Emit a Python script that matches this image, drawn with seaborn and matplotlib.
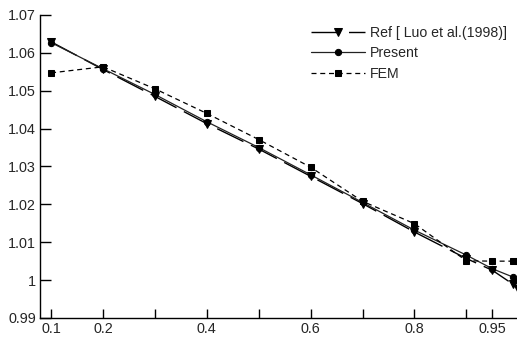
import matplotlib
matplotlib.use("Agg")
import numpy as np
import pandas as pd
import matplotlib.pyplot as plt
import seaborn as sns

# x positions of the points
x_vals = [0.1, 0.2, 0.3, 0.4, 0.5, 0.6, 0.7, 0.8, 0.9, 0.95, 0.99, 1.0]

ref_luo = [1.0629, 1.0556, 1.0485, 1.0413, 1.0346, 1.0274, 1.0202, 1.0127,
           1.0057, 1.0026, 0.9989, 0.9976]
present = [1.0627, 1.0558, 1.0490, 1.0418, 1.0350, 1.0278, 1.0205, 1.0132,
           1.0066, 1.0030, 1.0008, 0.9998]
fem = [1.0547, 1.0563, 1.0505, 1.0440, 1.0371, 1.0298, 1.0208, 1.0149,
       1.0051, 1.0050, 1.0050, 1.0050]

x_ticks = [0.1, 0.2, 0.3, 0.4, 0.5, 0.6, 0.7, 0.8, 0.9, 0.95, 1.0]
x_ticklabels = ["0.1", "0.2", "", "0.4", "", "0.6", "", "0.8", "", "0.95", ""]
y_ticks = [0.99, 1.0, 1.01, 1.02, 1.03, 1.04, 1.05, 1.06, 1.07]
y_ticklabels = ["0.99", "1", "1.01", "1.02", "1.03", "1.04", "1.05", "1.06", "1.07"]

df = pd.DataFrame({"x": x_vals, "ref": ref_luo, "present": present, "fem": fem})

sns.set_style("ticks")
plt.rcParams["font.family"] = ["Liberation Sans", "DejaVu Sans"]

fig = plt.figure(figsize=(5.17, 3.39), dpi=100)
ax = fig.add_axes([0.0774, 0.062, 0.925, 0.894])

sns.lineplot(data=df, x="x", y="ref", ax=ax, color="black", lw=1.0,
             marker="v", markersize=6, markeredgecolor="black",
             linestyle=(0, (21, 6)), label="Ref [ Luo et al.(1998)]",
             clip_on=False)
sns.lineplot(data=df, x="x", y="present", ax=ax, color="#222222", lw=0.9,
             marker="o", markersize=4.5, markeredgecolor="black",
             markerfacecolor="black", label="Present", clip_on=False)
sns.lineplot(data=df, x="x", y="fem", ax=ax, color="black", lw=0.9,
             marker="s", markersize=5, markeredgecolor="black",
             linestyle=(0, (4, 3)), label="FEM", clip_on=False)

ax.set_xlim(0.0787, 1.0)
ax.set_ylim(0.99, 1.07)
ax.set_xticks(x_ticks)
ax.set_xticklabels(x_ticklabels)
ax.set_yticks(y_ticks)
ax.set_yticklabels(y_ticklabels)
ax.set_xlabel("")
ax.set_ylabel("")

ax.tick_params(axis="both", direction="in", labelsize=10.4, width=1.0, color="black")
ax.tick_params(axis="y", length=8, pad=3)
ax.tick_params(axis="x", length=6.5, pad=3)
for s in ["top", "right"]:
    ax.spines[s].set_visible(False)
for s in ["left", "bottom"]:
    ax.spines[s].set_linewidth(1.0)
    ax.spines[s].set_color("black")

ax.legend(loc="upper right", bbox_to_anchor=(0.992, 0.987), frameon=False,
          fontsize=10.2, handlelength=3.8, handletextpad=0.4, labelspacing=0.45,
          borderpad=0)

fig.savefig("out.png", dpi=100)
